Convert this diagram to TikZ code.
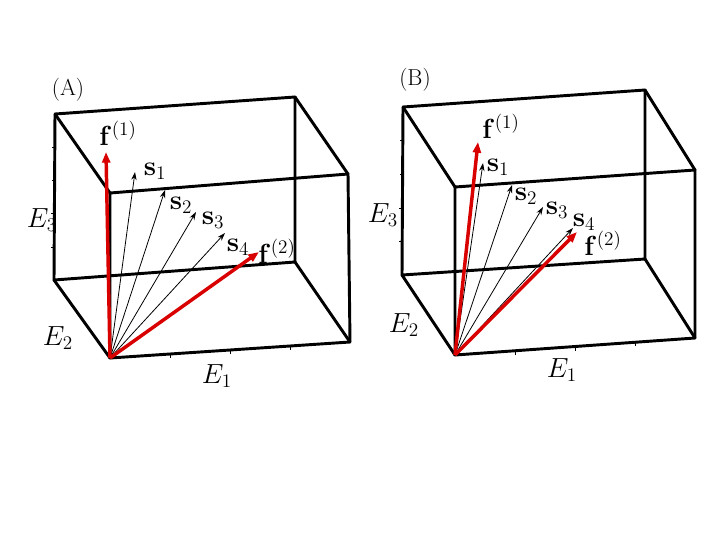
\documentclass[tikz,border=0pt]{standalone}
\usetikzlibrary{arrows.meta,calc}
\begin{document}
\begin{tikzpicture}[x=0.75pt,y=-0.75pt,
  edge/.style={line width=2.2pt,line cap=round,line join=round},
  vec/.style={line width=0.6pt,-{Stealth[length=6pt,width=4pt]}},
  red vec/.style={line width=2.6pt,red!85!black,-{Triangle[length=8pt,width=6pt]}},
  lab/.style={inner sep=1pt,font=\huge},
  axl/.style={inner sep=1pt,font=\huge},
  ttl/.style={inner sep=1pt,font=\LARGE}]
\useasboundingbox (0,0) rectangle (720,540);
% ---- Box A
\coordinate (a1) at (55,114); \coordinate (a2) at (295,97);
\coordinate (a3) at (295,262); \coordinate (a4) at (54,280);
\coordinate (b1) at (110,193); \coordinate (b2) at (348,174);
\coordinate (b3) at (350,342); \coordinate (oA) at (110,358);
\draw[edge] (a1)--(a2)--(a3)--(a4)--cycle;
\draw[edge] (b1)--(b2)--(b3)--(oA)--cycle;
\draw[edge] (a1)--(b1) (a2)--(b2) (a3)--(b3) (a4)--(oA);
\foreach \t in {0.25,0.5,0.75} \draw[thin] ($(oA)!\t!(b3)$) -- ++(0,4);
\foreach \t in {0.2,0.4,0.6,0.8} \draw[thin] ($(a4)!\t!(a1)$) -- ++(-3,0);
\coordinate (fa1) at (106,152); \coordinate (sa1) at (135,172);
\coordinate (sa2) at (165,190); \coordinate (sa3) at (196,212);
\coordinate (sa4) at (225,233); \coordinate (fa2) at (259,252);
\draw[vec] (oA)--(sa1); \draw[vec] (oA)--(sa2);
\draw[vec] (oA)--(sa3); \draw[vec] (oA)--(sa4);
\draw[red vec] (oA)--(fa1); \draw[red vec] (oA)--(fa2);
\node[ttl] (tA) at (68,90) {(A)};
\node[lab] (lfa1) at (118,133) {$\mathbf{f}^{(1)}$};
\node[lab] (lsa1) at (155,171) {$\mathbf{s}_1$};
\node[lab] (lsa2) at (181,205) {$\mathbf{s}_2$};
\node[lab] (lsa3) at (213,220) {$\mathbf{s}_3$};
\node[lab] (lsa4) at (238,247) {$\mathbf{s}_4$};
\node[lab] (lfa2) at (277,251) {$\mathbf{f}^{(2)}$};
\node[axl] (e3a) at (42,220) {$E_3$};
\node[axl] (e2a) at (58,338) {$E_2$};
\node[axl] (e1a) at (217,376) {$E_1$};
% ---- Box B
\coordinate (c1) at (403,107); \coordinate (c2) at (645,90);
\coordinate (c3) at (645,259); \coordinate (c4) at (402,275);
\coordinate (d1) at (455,187); \coordinate (d2) at (695,170);
\coordinate (d3) at (695,338); \coordinate (oB) at (455,355);
\draw[edge] (c1)--(c2)--(c3)--(c4)--cycle;
\draw[edge] (d1)--(d2)--(d3)--(oB)--cycle;
\draw[edge] (c1)--(d1) (c2)--(d2) (c3)--(d3) (c4)--(oB);
\foreach \t in {0.25,0.5,0.75} \draw[thin] ($(oB)!\t!(d3)$) -- ++(0,4);
\foreach \t in {0.2,0.4,0.6,0.8} \draw[thin] ($(c4)!\t!(c1)$) -- ++(-3,0);
\coordinate (fb1) at (478,142); \coordinate (sb1) at (483,163);
\coordinate (sb2) at (512,185); \coordinate (sb3) at (543,207);
\coordinate (sb4) at (573,228); \coordinate (fb2) at (577,232);
\draw[vec] (oB)--(sb1); \draw[vec] (oB)--(sb2);
\draw[vec] (oB)--(sb3); \draw[vec] (oB)--(sb4);
\draw[red vec] (oB)--(fb1); \draw[red vec] (oB)--(fb2);
\node[ttl] (tB) at (415,80) {(B)};
\node[lab] (lfb1) at (501,126) {$\mathbf{f}^{(1)}$};
\node[lab] (lsb1) at (498,167) {$\mathbf{s}_1$};
\node[lab] (lsb2) at (526,196) {$\mathbf{s}_2$};
\node[lab] (lsb3) at (557,210) {$\mathbf{s}_3$};
\node[lab] (lsb4) at (584,222) {$\mathbf{s}_4$};
\node[lab] (lfb2) at (603,243) {$\mathbf{f}^{(2)}$};
\node[axl] (e3b) at (383,215) {$E_3$};
\node[axl] (e2b) at (404,325) {$E_2$};
\node[axl] (e1b) at (562,370) {$E_1$};
\end{tikzpicture}
\end{document}
